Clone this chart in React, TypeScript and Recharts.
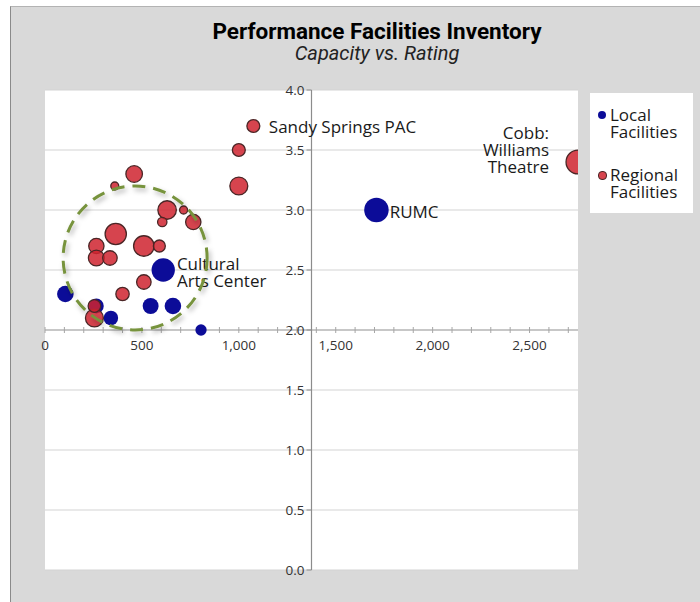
import React from 'react';
import {
  ScatterChart, Scatter, XAxis, YAxis, ZAxis, CartesianGrid, ReferenceLine, ReferenceDot,
} from 'recharts';

// Local facilities
const localCapacity = [105, 265, 340, 545, 610, 660, 805, 1710];
const localRating   = [2.3, 2.2, 2.1, 2.2, 2.5, 2.2, 2.0, 3.0];
const localSize     = [69, 55, 53, 64, 137, 69, 32, 151];
const localLabels   = ['', '', '', '', 'Cultural\nArts Center', '', '', 'RUMC'];

// Regional facilities
const regionalCapacity = [1075, 1000, 1000, 460, 360, 630, 715, 765, 605, 365, 510, 590, 265, 265, 335, 510, 400, 255, 255, 2750];
const regionalRating   = [3.7, 3.5, 3.2, 3.3, 3.2, 3.0, 3.0, 2.9, 2.9, 2.8, 2.7, 2.7, 2.7, 2.6, 2.6, 2.4, 2.3, 2.1, 2.2, 3.4];
const regionalSize     = [42, 42, 81, 69, 16, 86, 16, 59, 22, 114, 106, 36, 59, 64, 53, 53, 45, 81, 40, 144];
const regionalLabels   = ['Sandy Springs PAC', '', '', '', '', '', '', '', '', '', '', '', '', '', '', '', '', '', '', 'Cobb:\nWilliams\nTheatre'];

// highlighted cluster (dashed ring)
const clusterX = [465];
const clusterY = [2.6];

const xMajor = [0, 500, 1000, 1500, 2000, 2500];
const xMinor = Array.from({ length: 28 }, (_, i) => i * 100);
const yTicks = [0, 0.5, 1, 1.5, 2, 2.5, 3, 3.5, 4];
const X_MAX = 2750;
const Y_CROSS = 1375;

const FONT = '"Open Sans", "DejaVu Sans", sans-serif';

const localData = localCapacity.map((x, i) => ({ x, y: localRating[i], z: localSize[i], label: localLabels[i] }));
const regionalData = regionalCapacity.map((x, i) => ({ x, y: regionalRating[i], z: regionalSize[i], label: regionalLabels[i] }));
const clusterData = clusterX.map((x, i) => ({ x, y: clusterY[i], z: 1 }));

const labelNudge: Record<string, { side: 'left' | 'right'; gap: number; dy: number }> = {
  'Sandy Springs PAC': { side: 'right', gap: 9, dy: 0 },
  'Cultural\nArts Center': { side: 'right', gap: 2, dy: 2 },
  'RUMC': { side: 'right', gap: 1, dy: 1 },
  'Cobb:\nWilliams\nTheatre': { side: 'left', gap: 17, dy: -13 },
};

function bubble(fill: string, stroke: string, opacity: number) {
  return (props: any) => {
    const { cx, cy, width, payload } = props;
    const r = width / 2;
    const label: string = payload?.label || '';
    let text = null;
    if (label) {
      const n = labelNudge[label] || { side: 'right', gap: 3, dy: 0 };
      const lines = label.split('\n');
      const lh = 17;
      const top = cy + n.dy - ((lines.length - 1) * lh) / 2;
      const tx = n.side === 'right' ? cx + r + n.gap : cx - r - n.gap;
      text = lines.map((l, i) => (
        <text
          key={i} x={tx} y={top + i * lh} fontSize={17} fill="#1a1a1a" fontFamily={FONT}
          textAnchor={n.side === 'right' ? 'start' : 'end'} dominantBaseline="central"
        >
          {l}
        </text>
      ));
    }
    return (
      <g>
        <circle cx={cx} cy={cy} r={r} fill={fill} fillOpacity={opacity} stroke={stroke} strokeWidth={stroke === 'none' ? 0 : 1.3} />
        {text}
      </g>
    );
  };
}

function ring(props: any) {
  const { cx, cy } = props;
  return (
    <g>
      <defs>
        <filter id="ring-shadow" x="-30%" y="-30%" width="160%" height="160%">
          <feDropShadow dx="2" dy="3" stdDeviation="2.5" floodColor="#000" floodOpacity="0.3" />
        </filter>
      </defs>
      <ellipse
        cx={cx} cy={cy} rx={72} ry={72} fill="none"
        stroke="#77933c" strokeWidth={3} strokeDasharray="13 8" filter="url(#ring-shadow)"
      />
    </g>
  );
}

function xTick(v: number) {
  return (props: any) => {
    const { cx, cy } = props;
    const major = xMajor.includes(v);
    return (
      <g>
        <line x1={cx} x2={cx} y1={cy - 3} y2={cy + 3} stroke="#a6a6a6" strokeWidth={1} />
        {major && (
          <text x={cx} y={cy + 20} textAnchor="middle" fontSize={13.5} fill="#333" fontFamily={FONT}>
            {v.toLocaleString('en-US')}
          </text>
        )}
      </g>
    );
  };
}

function yTick(v: number) {
  return (props: any) => {
    const { cx, cy } = props;
    return (
      <g>
        <line x1={cx - 5} x2={cx} y1={cy} y2={cy} stroke="#8c8c8c" strokeWidth={1} />
        <text x={cx - 7} y={cy} textAnchor="end" dominantBaseline="central" fontSize={13.5} fill="#333" fontFamily={FONT}>
          {v.toFixed(1)}
        </text>
      </g>
    );
  };
}

export default function App() {
  return (
    <div style={{ position: 'absolute', left: 0, top: 0, width: 700, height: 602, overflow: 'hidden', fontFamily: FONT }}>
      <div
        style={{
          position: 'absolute', left: 10, top: 6, width: 700, height: 600,
          background: '#d9d9d9', borderLeft: '1.5px solid #8a8a8a', borderTop: '1px solid #b3b3b3',
        }}
      />
      {/* Title */}
      <div style={{ position: 'absolute', left: 0, width: 754, top: 18, textAlign: 'center', fontFamily: 'Roboto, sans-serif', fontWeight: 700, fontSize: 22.5, lineHeight: '26px', color: '#000' }}>
        Performance Facilities Inventory
      </div>
      <div style={{ position: 'absolute', left: 0, width: 754, top: 41, textAlign: 'center', fontFamily: 'Roboto, sans-serif', fontStyle: 'italic', fontSize: 20, lineHeight: '24px', color: '#222' }}>
        Capacity vs. Rating
      </div>

      <div style={{ position: 'absolute', left: 0, top: 0 }}>
        <ScatterChart width={700} height={602} margin={{ top: 90, right: 122, bottom: 32, left: 45 }}>
          <CartesianGrid vertical={false} fill="#ffffff" stroke="#d4d4d4" strokeWidth={1.2} />
          <XAxis type="number" dataKey="x" domain={[0, X_MAX]} allowDataOverflow hide />
          <YAxis type="number" dataKey="y" domain={[0, 4]} ticks={yTicks} hide />
          <ZAxis type="number" dataKey="z" domain={[0, 150]} range={[0, 150 * Math.PI]} />

          <ReferenceLine y={2} stroke="#a6a6a6" strokeWidth={1.2} />
          <ReferenceLine x={Y_CROSS} stroke="#8c8c8c" strokeWidth={1.2} />
          {xMinor.map((v) => (
            <ReferenceDot key={`x${v}`} x={v} y={2} r={0} shape={xTick(v)} />
          ))}
          {yTicks.map((v) => (
            <ReferenceDot key={`y${v}`} x={Y_CROSS} y={v} r={0} shape={yTick(v)} />
          ))}

          <Scatter name="Local Facilities" data={localData} shape={bubble('#0c0c98', 'none', 1)} isAnimationActive={false} />
          <Scatter name="Regional Facilities" data={regionalData} shape={bubble('#cf232f', '#4a2626', 0.85)} isAnimationActive={false} />
          <Scatter data={clusterData} shape={ring} isAnimationActive={false} />
        </ScatterChart>
      </div>

      {/* Legend */}
      <div style={{ position: 'absolute', left: 590, top: 93, width: 103, height: 120, background: '#fff', fontSize: 17, lineHeight: '17px', color: '#1a1a1a' }}>
        <div style={{ position: 'absolute', left: 8, top: 18, width: 8, height: 8, borderRadius: 4, background: '#0c0c98' }} />
        <div style={{ position: 'absolute', left: 20, top: 13 }}>Local<br />Facilities</div>
        <div style={{ position: 'absolute', left: 8, top: 78, width: 7, height: 7, borderRadius: 4, background: '#d7444e', border: '1px solid #4a2626' }} />
        <div style={{ position: 'absolute', left: 20, top: 73 }}>Regional<br />Facilities</div>
      </div>
    </div>
  );
}
